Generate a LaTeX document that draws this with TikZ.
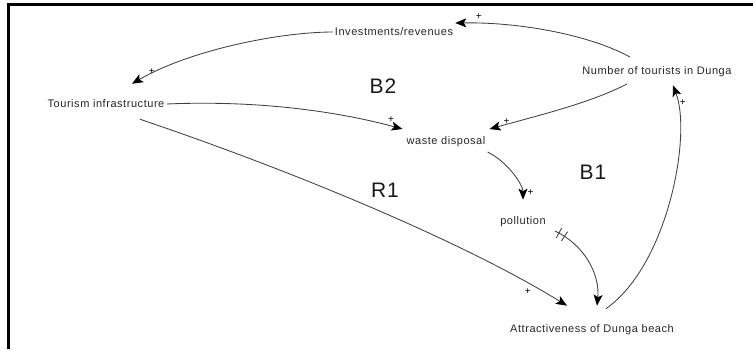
\documentclass[tikz,border=0pt]{standalone}
\usepackage{fontspec}
\setmainfont{Liberation Sans}
\newfontfamily\lblfont[LetterSpace=5]{Liberation Sans}
\usetikzlibrary{arrows.meta,calc,decorations.markings}
\definecolor{ink}{HTML}{262626}
\tikzset{
  var/.style={inner sep=2pt, text=ink, font=\lblfont\fontsize{11}{13}\selectfont},
  looplabel/.style={inner sep=0pt, text=black!90, font=\lblfont\fontsize{21}{24}\selectfont},
  sign/.style={inner sep=0pt, text=black, font=\fontsize{10}{11}\selectfont},
  link/.style={draw=black!75, line width=0.85pt,
    -{Stealth[length=11pt,width=9pt,inset=2.5pt,color=black]}},
  tick/.style={draw=black!75, line width=0.85pt, arrows=-},
  delay/.style={postaction={decorate, decoration={markings,
      mark=at position 0.05 with {\draw[tick] (0,-5.5pt)--(0,5.5pt);},
      mark=at position 0.12 with {\draw[tick] (0,-5.5pt)--(0,5.5pt);}}}},
  frame/.style={line width=3pt, black}
}
\begin{document}
\begin{tikzpicture}[x=1pt,y=-1pt]
\useasboundingbox (0,0) rectangle (753,349);
% frame on the top and left edges
\draw[frame] (7,4.5) -- (753,4.5);
\draw[frame] (8.5,3) -- (8.5,349);

% variables
\node[var] (inv)   at (394,32)  {Investments/revenues};
\node[var] (num)   at (657,72)  {Number of tourists in Dunga};
\node[var] (tour)  at (106,104) {Tourism infrastructure};
\node[var] (waste) at (446,142) {waste disposal};
\node[var] (poll)  at (523,222) {pollution};
\node[var] (attr)  at (592,330) {Attractiveness of Dunga beach};

% loop labels
\node[looplabel] (b2) at (383,86)  {B2};
\node[looplabel] (b1) at (593,172) {B1};
\node[looplabel] (r1) at (385,190) {R1};

% causal links
\draw[link] ($(num)+(-27,-15)$) .. controls (590,35) and (520,22) .. ($(inv.east)+(0,-9)$)
  node[sign, pos=0.88, above=3pt] {+};
\draw[link] (inv.west) .. controls (280,32) and (190,50) .. ($(tour.north)+(26,-14)$)
  node[sign, pos=0.91, above right=0pt] {+};
\draw[link] (tour.east) .. controls (260,100) and (340,112) .. ($(waste.west)+(-2,-13)$)
  node[sign, pos=0.94, above=3pt] {+};
\draw[link] ($(num)+(-30,12)$) .. controls (590,103) and (540,115) .. ($(waste.east)+(2,-13)$)
  node[sign, pos=0.91, above right=0pt] {+};
\draw[link] ($(waste.east)+(0,10)$) .. controls (508,162) and (523,185) .. ($(poll.north)+(0,-15)$)
  node[sign, pos=0.86, right=5pt] {+};
\draw[link] ($(tour.south)+(34,9)$) .. controls (290,170) and (460,240) .. ($(attr.north)+(-25,-17)$)
  node[sign, pos=0.9, below left=2pt] {+};
\draw[link, delay] ($(poll.east)+(7,9)$) .. controls (585,245) and (600,275) .. ($(attr.north)+(5,-17)$);
\draw[link] ($(attr.north)+(14,-14)$) .. controls (668,265) and (692,135) .. ($(num.south)+(16,6)$)
  node[sign, pos=0.9, right=2pt] {+};
\end{tikzpicture}
\end{document}
